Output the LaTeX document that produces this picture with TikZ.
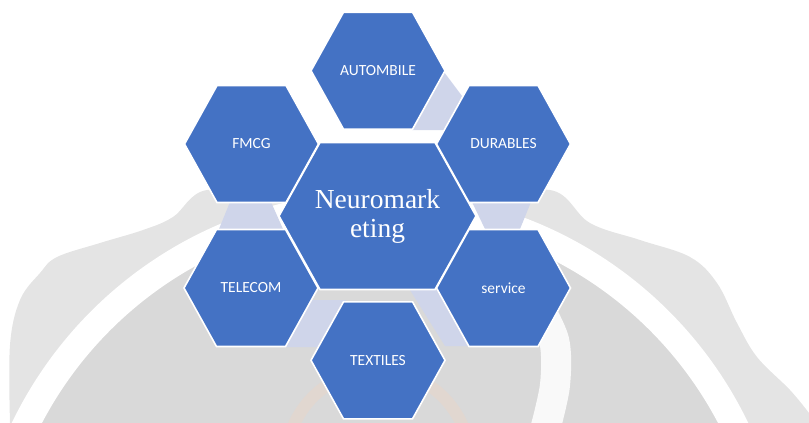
\documentclass[tikz,border=0pt]{standalone}
\usepackage{fontspec}
\setmainfont{Liberation Serif}
\newfontfamily\labelfont{Carlito}
\definecolor{hexblue}{HTML}{4472C4}
\definecolor{bandlav}{HTML}{CFD5EA}
\definecolor{markgrey}{HTML}{E4E4E4}
\definecolor{markgreyin}{HTML}{D9D9D9}
\definecolor{markpeach}{HTML}{F2D5C0}

% hexagon with pointed left/right ends: name, cx, cy, half width, half height, half top edge
\newcommand\hexcell[6]{%
  \draw[hexshape] ({#2-#4},#3) -- ({#2-#6},{#3-#5}) -- ({#2+#6},{#3-#5})
    -- ({#2+#4},#3) -- ({#2+#6},{#3+#5}) -- ({#2-#6},{#3+#5}) -- cycle;
  \coordinate (#1) at (#2,#3);}

\tikzset{
  hexshape/.style={fill=hexblue, draw=white, line width=1.6pt, line join=miter},
  band/.style={fill=bandlav},
  smalllabel/.style={text=white, font={\labelfont\fontsize{15.5}{18}\selectfont}, inner sep=0pt},
  biglabel/.style={text=white, align=center, inner sep=0pt,
    font={\fontsize{27.5}{29}\selectfont}},
}

\begin{document}
\begin{tikzpicture}[x=1pt, y=-1pt]
\useasboundingbox (0,0) rectangle (809,423);

% faint emblem behind the cluster
\def\emblem{plot[smooth, tension=0.6] coordinates {(10,423) (10,345) (20,300) (40,273)
  (57,257) (100,243) (143,230) (173,217) (207,190) (280,200) (380,215) (470,205)
  (550,190) (590,223) (640,240) (690,257) (717,283) (737,323) (757,357) (790,390)
  (809,413)} -- (809,423) -- cycle}
\fill[markgrey] \emblem;
\begin{scope}
  \clip \emblem;
  \fill[markgreyin] (380,600) circle[radius=382pt];
  \draw[white, line width=27pt] (380,600) circle[radius=395pt];
  \draw[white, line width=30pt, opacity=0.85] plot[smooth] coordinates {(532,295) (554,340) (555,385) (545,430)};
  \draw[markpeach, line width=12pt, opacity=0.35] (378,462) circle[radius=92pt];
\end{scope}

% links between neighbouring cells
\fill[band] (444,72) -- (462,96) -- (445,130) -- (412,130) -- cycle;
\fill[band] (472,202) -- (531,202) -- (520,229) -- (485,229) -- cycle;
\fill[band] (230,202) -- (271,202) -- (283,229) -- (219,229) -- cycle;
\fill[band] (305,300) -- (346,300) -- (320,347) -- (284,347) -- cycle;
\fill[band] (410,290) -- (437,290) -- (470,346) -- (445,346) -- cycle;

% cells
\hexcell{auto}{378}{70.7}{67}{58.5}{34.5}
\hexcell{fmcg}{251.5}{144}{67}{58.5}{34.5}
\hexcell{dur}{503.5}{144}{67}{58.5}{34.5}
\hexcell{tel}{251}{288}{67}{58.5}{34.5}
\hexcell{serv}{503.5}{288}{67}{58.5}{34.5}
\hexcell{text}{378}{360.3}{67}{58.5}{34.5}
\hexcell{core}{377.5}{216}{98.5}{73.5}{57.5}

% labels
\node[smalllabel] (autoL) at (auto) {AUTOMBILE};
\node[smalllabel] (fmcgL) at (fmcg) {FMCG};
\node[smalllabel] (durL) at (dur) {DURABLES};
\node[smalllabel] (telL) at (tel) {TELECOM};
\node[smalllabel] (servL) at (serv) {service};
\node[smalllabel] (textL) at (text) {TEXTILES};
\node[biglabel] (coreL) at ([yshift=-0.5pt]core) {Neuromark\\eting};
\end{tikzpicture}
\end{document}
